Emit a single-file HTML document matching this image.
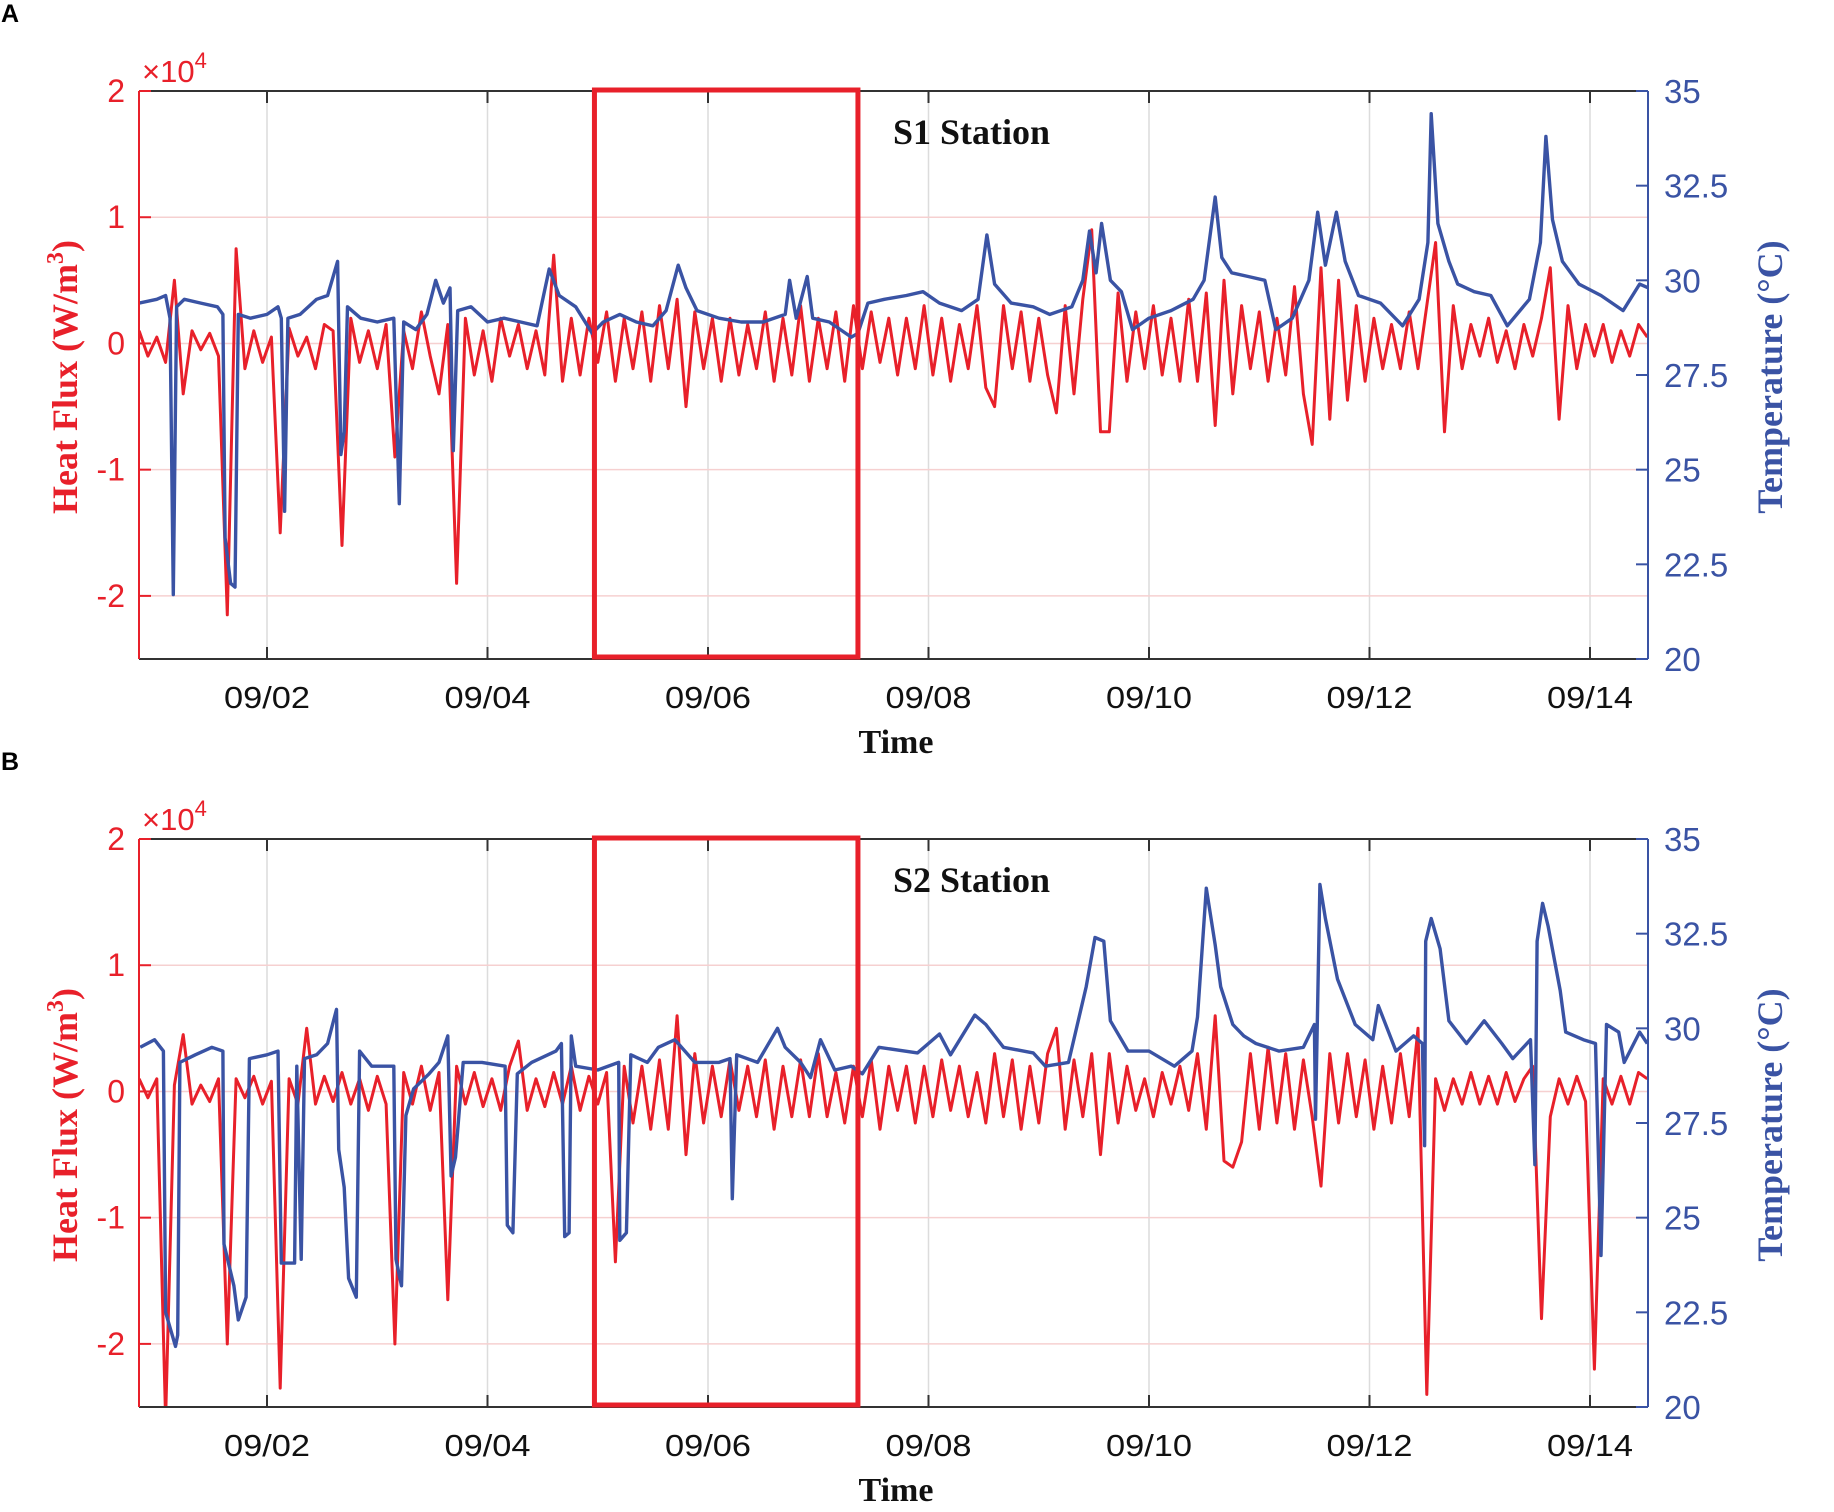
<!DOCTYPE html>
<html><head><meta charset="utf-8"><style>
html,body{margin:0;padding:0;background:#fff;}
svg{display:block;}
</style></head><body>
<svg id="fig" width="1834" height="1512" viewBox="0 0 1834 1512" xmlns="http://www.w3.org/2000/svg"></svg>
<script>
// ---- shared axis data ----
const dateTicks = [2, 4, 6, 8, 10, 12, 14];
const dateLabels = ["09/02", "09/04", "09/06", "09/08", "09/10", "09/12", "09/14"];
const fluxTicks = [2, 1, 0, -1, -2];
const fluxLabels = ["2", "1", "0", "-1", "-2"];
const tempTicks = [35, 32.5, 30, 27.5, 25, 22.5, 20];
const tempLabels = ["35", "32.5", "30", "27.5", "25", "22.5", "20"];
const highlightWindow = [4.97, 7.36];
const fluxStart = 0.84;
const fluxStep = 0.08;

// ---- S1 station ----
const fluxA = [0.1,-0.1,0.05,-0.15,0.5,-0.4,0.1,-0.05,0.08,-0.1,
-2.15,0.75,-0.2,0.1,-0.15,0.05,-1.5,0.12,-0.1,0.05,
-0.2,0.15,0.1,-1.6,0.2,-0.15,0.1,-0.2,0.15,-0.9,
0.1,-0.2,0.25,-0.1,-0.4,0.15,-1.9,0.2,-0.25,0.1,
-0.3,0.2,-0.1,0.15,-0.2,0.1,-0.25,0.7,-0.3,0.2,
-0.25,0.2,-0.15,0.25,-0.3,0.2,-0.2,0.25,-0.3,0.3,
-0.2,0.35,-0.5,0.25,-0.2,0.2,-0.3,0.2,-0.25,0.15,
-0.2,0.25,-0.3,0.2,-0.25,0.3,-0.3,0.2,-0.2,0.25,
-0.3,0.3,-0.2,0.25,-0.15,0.2,-0.25,0.2,-0.2,0.3,
-0.25,0.2,-0.3,0.15,-0.2,0.3,-0.35,-0.5,0.3,-0.2,
0.25,-0.3,0.2,-0.25,-0.55,0.3,-0.4,0.35,0.9,-0.7,
-0.7,0.4,-0.3,0.25,-0.2,0.3,-0.25,0.2,-0.3,0.35,
-0.3,0.4,-0.65,0.5,-0.4,0.3,-0.2,0.25,-0.3,0.2,
-0.25,0.45,-0.4,-0.8,0.6,-0.6,0.5,-0.45,0.3,-0.3,
0.2,-0.2,0.15,-0.2,0.25,-0.2,0.3,0.8,-0.7,0.3,
-0.2,0.15,-0.1,0.2,-0.15,0.1,-0.2,0.15,-0.1,0.2,
0.6,-0.6,0.3,-0.2,0.15,-0.1,0.15,-0.15,0.1,-0.1,
0.15,0.05];
const tempTimeA = [0.84,1.0,1.08,1.12,1.15,1.18,1.25,1.4,1.55,1.6,1.62,1.67,1.71,1.74,1.85,2.0,2.1,2.13,2.16,2.19,2.3,2.45,2.55,2.64,2.67,2.7,2.73,2.85,3.0,3.15,3.2,3.24,3.35,3.45,3.53,3.6,3.66,3.69,3.73,3.85,4.0,4.15,4.3,4.45,4.56,4.65,4.8,4.95,5.05,5.2,5.35,5.5,5.62,5.73,5.8,5.9,6.1,6.3,6.5,6.7,6.74,6.8,6.9,6.95,7.1,7.3,7.36,7.45,7.6,7.8,7.95,8.1,8.3,8.45,8.53,8.6,8.75,8.95,9.1,9.3,9.4,9.46,9.52,9.57,9.65,9.75,9.85,10.0,10.2,10.4,10.5,10.6,10.66,10.75,10.9,11.05,11.15,11.3,11.45,11.53,11.6,11.7,11.78,11.9,12.1,12.3,12.45,12.53,12.56,12.62,12.72,12.8,12.95,13.1,13.25,13.45,13.55,13.6,13.66,13.75,13.9,14.1,14.3,14.45,14.53];
const tempValA = [29.4,29.5,29.6,29.0,21.7,29.3,29.5,29.4,29.3,29.1,23.2,22.0,21.9,29.1,29.0,29.1,29.3,29.0,23.9,29.0,29.1,29.5,29.6,30.5,25.4,26.0,29.3,29.0,28.9,29.0,24.1,28.9,28.7,29.1,30.0,29.4,29.8,25.5,29.2,29.3,28.9,29.0,28.9,28.8,30.3,29.6,29.3,28.6,28.9,29.1,28.9,28.8,29.2,30.4,29.8,29.2,29.0,28.9,28.9,29.1,30.0,29.0,30.1,29.0,28.9,28.5,28.6,29.4,29.5,29.6,29.7,29.4,29.2,29.5,31.2,29.9,29.4,29.3,29.1,29.3,30.0,31.3,30.2,31.5,30.0,29.7,28.7,29.0,29.2,29.5,30.0,32.2,30.6,30.2,30.1,30.0,28.7,29.0,30.0,31.8,30.4,31.8,30.5,29.6,29.4,28.8,29.5,31.0,34.4,31.5,30.5,29.9,29.7,29.6,28.8,29.5,31.0,33.8,31.6,30.5,29.9,29.6,29.2,29.9,29.8];

// ---- S2 station ----
const fluxB = [0.1,-0.05,0.1,-2.6,0.05,0.45,-0.1,0.05,-0.08,0.1,
-2.0,0.1,-0.05,0.12,-0.1,0.08,-2.35,0.1,-0.1,0.5,
-0.1,0.12,-0.08,0.15,-0.1,0.1,-0.15,0.12,-0.1,-2.0,
0.15,-0.1,0.2,-0.15,0.15,-1.65,0.2,-0.1,0.15,-0.12,
0.1,-0.15,0.2,0.4,-0.15,0.1,-0.12,0.15,-0.1,0.2,
-0.15,0.12,-0.1,0.15,-1.35,0.2,-0.25,0.2,-0.3,0.25,
-0.3,0.6,-0.5,0.3,-0.25,0.2,-0.2,0.25,-0.15,0.2,
-0.2,0.25,-0.3,0.2,-0.2,0.25,-0.2,0.3,-0.2,0.15,
-0.25,0.2,-0.2,0.25,-0.3,0.2,-0.15,0.2,-0.25,0.2,
-0.2,0.25,-0.15,0.2,-0.2,0.15,-0.25,0.3,-0.2,0.25,
-0.3,0.2,-0.25,0.3,0.5,-0.3,0.25,-0.2,0.3,-0.5,
0.3,-0.25,0.2,-0.15,0.1,-0.2,0.15,-0.1,0.2,-0.15,
0.3,-0.3,0.6,-0.55,-0.6,-0.4,0.3,-0.3,0.35,-0.25,
0.3,-0.3,0.25,-0.2,-0.75,0.3,-0.25,0.3,-0.2,0.25,
-0.3,0.2,-0.25,0.3,-0.2,0.5,-2.4,0.1,-0.15,0.1,
-0.1,0.15,-0.1,0.12,-0.1,0.15,-0.08,0.1,0.2,-1.8,
-0.2,0.1,-0.1,0.12,-0.08,-2.2,0.1,-0.1,0.12,-0.1,
0.15,0.1];
const tempTimeB = [0.85,0.98,1.06,1.08,1.17,1.19,1.21,1.35,1.5,1.6,1.61,1.7,1.74,1.81,1.84,2.0,2.1,2.13,2.25,2.27,2.31,2.34,2.45,2.55,2.63,2.65,2.7,2.74,2.81,2.84,2.95,3.15,3.17,3.22,3.26,3.33,3.47,3.56,3.64,3.67,3.71,3.78,3.95,4.16,4.18,4.23,4.27,4.4,4.62,4.67,4.7,4.74,4.76,4.8,5.0,5.19,5.2,5.26,5.3,5.45,5.55,5.7,5.88,6.1,6.2,6.22,6.26,6.45,6.63,6.7,6.84,6.93,7.02,7.15,7.3,7.4,7.55,7.9,8.1,8.2,8.42,8.52,8.68,8.95,9.06,9.27,9.43,9.51,9.59,9.65,9.81,10.0,10.23,10.39,10.44,10.52,10.6,10.65,10.76,10.86,10.97,11.18,11.4,11.5,11.51,11.55,11.6,11.71,11.87,12.03,12.08,12.24,12.4,12.48,12.5,12.51,12.56,12.64,12.72,12.88,13.04,13.2,13.3,13.46,13.5,13.52,13.57,13.62,13.73,13.78,13.94,14.05,14.1,14.15,14.26,14.31,14.45,14.52];
const tempValB = [29.5,29.7,29.4,22.5,21.6,21.9,29.1,29.3,29.5,29.4,24.3,23.2,22.3,22.9,29.2,29.3,29.4,23.8,23.8,29.0,23.9,29.2,29.3,29.6,30.5,26.8,25.8,23.4,22.9,29.4,29.0,29.0,23.9,23.2,27.7,28.4,28.8,29.1,29.8,26.1,26.6,29.1,29.1,29.0,24.8,24.6,28.8,29.1,29.4,29.6,24.5,24.6,29.8,29.0,28.9,29.1,24.4,24.6,29.3,29.1,29.5,29.7,29.1,29.1,29.2,25.5,29.3,29.1,30.0,29.5,29.1,28.7,29.7,28.9,29.0,28.8,29.5,29.35,29.85,29.3,30.35,30.1,29.5,29.35,29.0,29.1,31.1,32.4,32.3,30.2,29.4,29.4,29.0,29.4,30.3,33.7,32.2,31.1,30.1,29.8,29.6,29.4,29.5,30.1,27.6,33.8,32.9,31.3,30.1,29.7,30.6,29.4,29.8,29.6,26.9,32.3,32.9,32.1,30.2,29.6,30.2,29.6,29.2,29.7,26.4,32.3,33.3,32.7,31.0,29.9,29.7,29.6,24.0,30.1,29.9,29.1,29.9,29.6];

const RED = "#e8202a", BLUE = "#3a53a4";
const NS = "http://www.w3.org/2000/svg";
const svg = document.getElementById("fig");
const L = 139, R = 1648;
function xs(t){ return 267 + (t - 2) * 110.25; }
function mk(tag, attrs, parent){ const e = document.createElementNS(NS, tag); for (const k in attrs) e.setAttribute(k, attrs[k]); (parent||svg).appendChild(e); return e; }

function panel(top, letter, station, flux, tT, tV, key){
  const bot = top + 568;
  const yF = v => top + (2 - v) / 4.5 * 568;
  const yT = v => top + (35 - v) / 15 * 568;
  const g = mk("g", {});
  
  

  const lab = mk("text", {x: 1, y: top - 69, "font-family": "Liberation Sans, sans-serif", "font-weight": "bold", "font-size": 25, fill: "#000"}, g);
  lab.textContent = letter;
  
  

  const clipId = "clip" + key;
  const cp = mk("clipPath", {id: clipId}, g);
  mk("rect", {x: L, y: top, width: R - L, height: 568}, cp);

  dateTicks.forEach((d) => {
    const gl = mk("line", {x1: xs(d), x2: xs(d), y1: top, y2: bot, stroke: "#dcdcdc", "stroke-width": 1.5}, g);
    
    
  });
  fluxTicks.forEach((v) => {
    if (v === 2) return;
    const gl = mk("line", {x1: L, x2: R, y1: yF(v), y2: yF(v), stroke: "#f6d0d0", "stroke-width": 1.5}, g);
    
    
  });

  let d = "";
  flux.forEach((v, i) => { const t = fluxStart + fluxStep * i; d += (i ? "L" : "M") + xs(t).toFixed(1) + " " + yF(v).toFixed(1); });
  const fp = mk("path", {d: d, fill: "none", stroke: RED, "stroke-width": 3, "stroke-linejoin": "round", "clip-path": "url(#" + clipId + ")"}, g);
  
  

  let d2 = "";
  tT.forEach((t, i) => { d2 += (i ? "L" : "M") + xs(t).toFixed(1) + " " + yT(tV[i]).toFixed(1); });
  const tp = mk("path", {d: d2, fill: "none", stroke: BLUE, "stroke-width": 3.4, "stroke-linejoin": "round", "clip-path": "url(#" + clipId + ")"}, g);
  
  

  const ax = [
    ["top-axis", L, top, R, top, "#333"], ["bottom-axis", L, bot, R, bot, "#333"],
    ["left-axis", L, top, L, bot, RED], ["right-axis", R, top, R, bot, BLUE]];
  ax.forEach(a => { const l = mk("line", {x1: a[1], y1: a[2], x2: a[3], y2: a[4], stroke: a[5], "stroke-width": 2}, g);
    
     });

  dateTicks.forEach((dd, i) => {
    mk("line", {x1: xs(dd), x2: xs(dd), y1: bot, y2: bot - 12, stroke: "#333", "stroke-width": 2}, g);
    mk("line", {x1: xs(dd), x2: xs(dd), y1: top, y2: top + 12, stroke: "#333", "stroke-width": 2}, g);
    const tx = mk("text", {x: xs(dd), y: bot + 49, "text-anchor": "middle", "font-family": "Liberation Sans, sans-serif", "font-size": 31, fill: "#111", textLength: 86, lengthAdjust: "spacingAndGlyphs"}, g);
    tx.textContent = dateLabels[i];
    
    
  });
  fluxTicks.forEach((v, i) => {
    mk("line", {x1: L, x2: L + 12, y1: yF(v), y2: yF(v), stroke: RED, "stroke-width": 2}, g);
    const tx = mk("text", {x: 125, y: yF(v) + 11, "text-anchor": "end", "font-family": "Liberation Sans, sans-serif", "font-size": 32, fill: RED}, g);
    tx.textContent = fluxLabels[i];
    
    
  });
  tempTicks.forEach((v, i) => {
    mk("line", {x1: R, x2: R - 12, y1: yT(v), y2: yT(v), stroke: BLUE, "stroke-width": 2}, g);
    const tx = mk("text", {x: 1664, y: yT(v) + 12, "font-family": "Liberation Sans, sans-serif", "font-size": 33, fill: BLUE}, g);
    tx.textContent = tempLabels[i];
    
    
  });

  const ex = mk("text", {x: 142, y: top - 9, "font-family": "Liberation Sans, sans-serif", "font-size": 31, fill: RED}, g);
  ex.innerHTML = '×10<tspan dy="-14" font-size="22">4</tspan>';
  
  

  const yt = mk("text", {x: 0, y: 0, transform: "translate(77 " + (top + 286) + ") rotate(-90)", "text-anchor": "middle", "font-family": "Liberation Serif, serif", "font-weight": "bold", "font-size": 36, fill: RED}, g);
  yt.innerHTML = 'Heat Flux (W/m<tspan dy="-14" font-size="24">3</tspan><tspan dy="14">)</tspan>';
  
  

  const rt = mk("text", {x: 0, y: 0, transform: "translate(1782 " + (top + 286) + ") rotate(-90)", "text-anchor": "middle", "font-family": "Liberation Serif, serif", "font-weight": "bold", "font-size": 36, fill: BLUE}, g);
  rt.textContent = "Temperature (°C)";
  
  

  const xt = mk("text", {x: 896, y: bot + 94, "text-anchor": "middle", "font-family": "Liberation Serif, serif", "font-weight": "bold", "font-size": 34, fill: "#111"}, g);
  xt.textContent = "Time";
  
  

  const st = mk("text", {x: 893, y: top + 53, "font-family": "Liberation Serif, serif", "font-weight": "bold", "font-size": 36, fill: "#111"}, g);
  st.textContent = station;
  
  

  const hb = mk("rect", {x: xs(highlightWindow[0]), y: top - 1, width: xs(highlightWindow[1]) - xs(highlightWindow[0]), height: 567, fill: "none", stroke: RED, "stroke-width": 5}, g);
  
  
}
panel(91, "A", "S1 Station", fluxA, tempTimeA, tempValA, "a");
panel(839, "B", "S2 Station", fluxB, tempTimeB, tempValB, "b");
</script>
</body></html>
